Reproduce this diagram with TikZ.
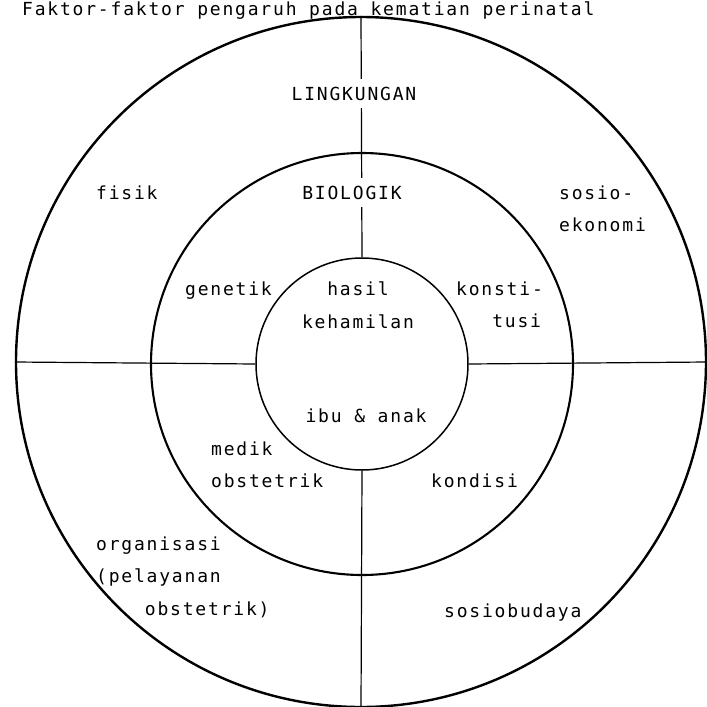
\documentclass[tikz,border=0pt]{standalone}
\usepackage{fontspec}
\setmainfont[LetterSpace=10]{DejaVu Sans Mono}
\begin{document}
\begin{tikzpicture}[x=1pt,y=-1pt,
  lbl/.style={inner sep=0pt, font=\fontsize{18}{32.5}\selectfont, text=black},
  ring/.style={circle, draw, inner sep=0pt},
  divider/.style={line width=1.2pt},
  hidebg/.style={fill=white, inner xsep=2pt, inner ysep=8pt}]
\useasboundingbox (0,0) rectangle (707,707);
\fill[white] (0,0) rectangle (707,707);
% title
\node[lbl, anchor=base west] (title) at (22,15) {Faktor-faktor pengaruh pada kematian perinatal};
% circles
\node[ring, line width=2.4pt, minimum size=690pt] (outer) at (361,362) {};
\node[ring, line width=2.1pt, minimum size=422pt] (middle) at (362,364) {};
\node[ring, line width=1.5pt, minimum size=212pt] (inner) at (362,364) {};
% dividers
\draw[divider] (outer.north) -- (inner.north);
\draw[divider] (inner.south) -- (outer.south);
\draw[divider] (outer.west) -- (inner.west);
\draw[divider] (inner.east) -- (outer.east);
% labels
\node[lbl, hidebg, anchor=base] (lingkungan) at (354,100) {LINGKUNGAN};
\node[lbl, hidebg, anchor=base] (biologik) at (352,199) {BIOLOGIK};
\node[lbl, anchor=base west] (fisik) at (96,199) {fisik};
\node[lbl, anchor=west, align=left] (sosioek) at (559,209) {sosio-\\ekonomi};
\node[lbl, anchor=base west] (genetik) at (185,295) {genetik};
\node[lbl, anchor=center, align=center] (hasil) at (358,305) {hasil\\kehamilan};
\node[lbl, anchor=west, align=left] (konstitusi) at (456,305) {konsti-\\\phantom{kon}tusi};
\node[lbl, anchor=base] (ibuanak) at (366,422) {ibu \& anak};
\node[lbl, anchor=west, align=left] (medik) at (211,465) {medik\\obstetrik};
\node[lbl, anchor=base west] (kondisi) at (431,487) {kondisi};
\node[lbl, anchor=west, align=left] (organisasi) at (96,578) {organisasi\\(pelayanan\\\phantom{(pel}obstetrik)};
\node[lbl, anchor=base west] (sosiobudaya) at (444,617) {sosiobudaya};
\end{tikzpicture}
\end{document}
